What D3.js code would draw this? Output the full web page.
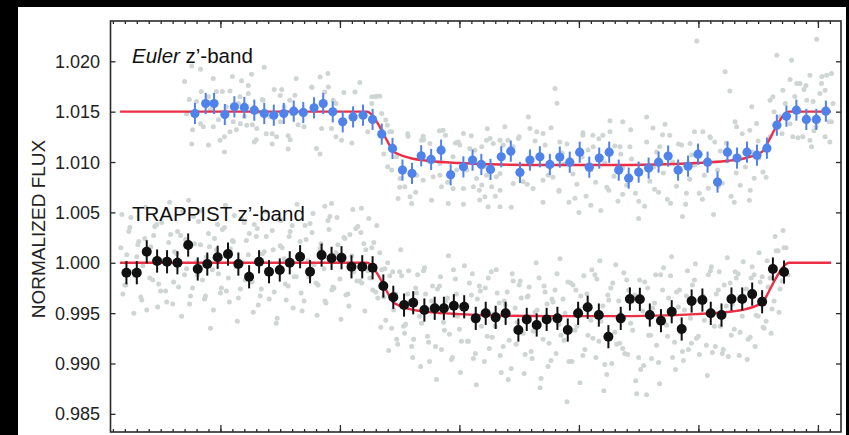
<!DOCTYPE html>
<html><head><meta charset="utf-8">
<script src="https://cdn.jsdelivr.net/npm/d3@7"></script>
<style>
html,body{margin:0;padding:0;background:#000;}
svg{display:block;}
</style></head><body>
<svg id="chart" width="849" height="435"></svg>
<script>
// Time is in minutes from mid-transit; flux is normalised.
const eulerTime = [-96.4,-93.7,-91.6,-88.9,-86.5,-84.0,-81.5,-79.0,-76.6,-74.1,-71.6,-69.2,-66.5,-64.2,-61.8,-59.3,-56.7,-54.2,-51.8,-49.5,-46.8,-44.3,-41.9,-39.6,-37.1,-34.6,-32.2,-29.0,-26.7,-24.5,-22.2,-19.5,-17.1,-14.8,-12.3,-9.8,-7.3,-4.8,-2.3,0.2,2.6,5.1,7.6,10.0,12.5,15.0,17.5,20.0,22.4,24.9,27.4,29.9,32.3,34.8,37.3,39.7,42.2,44.7,47.2,49.7,52.1,54.6,57.1,59.6,62.0];
const eulerFlux = [1.01482,1.01581,1.01581,1.01472,1.01548,1.01542,1.01515,1.01482,1.01465,1.01482,1.01505,1.01492,1.01538,1.01581,1.01498,1.01399,1.01448,1.01465,1.01423,1.01277,1.01135,1.00920,1.00887,1.01062,1.01026,1.01118,1.00873,1.00952,1.01019,1.00976,1.00927,1.01052,1.01108,1.00897,1.01019,1.01052,1.00976,1.01049,1.00999,1.01098,1.00949,1.01039,1.01098,1.00920,1.00840,1.00900,1.00940,1.00999,1.01059,1.00920,1.00959,1.01078,1.00999,1.00801,1.01098,1.01039,1.01098,1.01068,1.01138,1.01366,1.01455,1.01515,1.01423,1.01423,1.01505];
const eulerErr = 0.00105;

const trappistTime = [-113.6,-111.0,-108.5,-105.9,-103.4,-100.8,-98.1,-95.7,-93.3,-90.7,-88.1,-85.5,-82.8,-80.3,-77.8,-75.1,-72.6,-70.0,-67.5,-64.6,-62.1,-59.6,-57.1,-54.4,-51.8,-49.1,-46.6,-43.9,-41.6,-38.8,-36.2,-33.9,-31.4,-28.8,-25.9,-23.4,-20.9,-18.4,-15.2,-13.1,-10.6,-8.1,-5.4,-2.8,-0.2,2.2,5.0,7.4,10.5,12.8,15.3,17.8,20.6,23.3,25.8,28.3,31.0,33.1,35.8,38.3,41.0,43.5,46.0,48.7,51.5];
const trappistFlux = [0.99901,0.99901,1.00109,1.00017,1.00010,1.00000,1.00176,0.99938,0.99987,1.00054,1.00086,0.99987,0.99861,1.00010,0.99911,0.99928,1.00000,1.00060,0.99911,1.00076,1.00044,1.00050,0.99960,0.99960,0.99950,0.99769,0.99657,0.99580,0.99603,0.99531,0.99548,0.99548,0.99573,0.99563,0.99448,0.99498,0.99458,0.99498,0.99332,0.99438,0.99382,0.99438,0.99448,0.99332,0.99498,0.99558,0.99481,0.99266,0.99448,0.99640,0.99637,0.99481,0.99425,0.99514,0.99342,0.99620,0.99630,0.99498,0.99481,0.99640,0.99640,0.99689,0.99613,0.99938,0.99908];
const trappistErr = 0.00115;

// Unbinned Euler measurements
const eulerRawTime = [-65.0,-67.1,-62.9,-63.8,-61.7,-61.0,-64.6,-62.1,-59.6,-65.9,-56.2,-50.8,-50.0,-52.0,-52.0,-49.5,-48.5,-48.1,-49.5,-47.5,-45.8,-48.0,-47.0,-44.9,-43.7,-45.4,-42.4,-42.0,-63.8,-62.1,-54.6,-42.9,-39.1,-39.5,-37.4,-34.1,-33.5,-29.0,-30.3,-29.9,-27.4,-26.1,-24.4,-23.2,-22.3,-21.5,-19.8,-18.6,-17.8,-16.5,-15.2,-12.7,-12.3,-10.6,-9.0,-8.5,-38.2,-34.9,-31.6,-30.7,-28.2,-25.7,-23.2,-20.7,-19.8,-23.6,-34.5,-31.6,-29.0,-26.5,-24.4,-21.9,-19.8,-16.5,-14.0,-11.5,-9.0,-7.7,-34.9,-36.6,-40.7,-39.1,-24.9,-23.6,-22.8,-19.8,-32.8,
  -97.2,-91.8,-84.7,-82.2,-74.6,-87.6,-85.1,-79.3,-72.6,-71.3,-94.3,-91.8,-86.8,-83.4,-80.9,-75.9,-87.6,-97.2,-90.1,
  -98.5,-96.0,-95.0,-93.0,-92.5,-90.5,-89.5,-88.5,-86.0,-85.5,-84.0,-83.0,-82.0,-80.5,-79.5,-78.5,-77.5,-76.5,-75.0,-74.0,-73.0,-72.0,-70.5,-97.8,-94.8,
  -89.0,-81.5,-77.0,-72.5,
  29.6,49.7,53.4,59.7,36.7,37.9,-6.0,-5.5,17.0,18.6,21.6,22.8,7.8,11.0,1.0,3.5,6.0,7.8,-4.8,43.4,39.2,42.9,44.6,48.0,48.7,51.2,54.7,55.5,58.0,60.9,62.2,63.4,61.8,57.2,56.2,58.0,61.8,63.4,53.7,58.4,48.0,39.6,32.9,34.1,31.1,25.8,27.9,20.3,12.8,10.3,3.6,
  -6.5,-5.0,-3.8,-2.5,-1.5,-0.5,0.8,1.8,3.0,4.2,5.5,6.5,7.5,8.8,9.8,11.0,12.0,13.2,14.2,15.5,16.5,17.8,18.8,20.0,21.2,22.2,23.5,24.5,25.5,26.8,27.8,29.0,30.2,31.5,32.5,33.8,34.8,36.0,37.2,38.2,39.5,40.5,41.8,42.8,44.0,45.2,46.2,47.5,-4.2,2.3,10.5,19.5,28.3,35.5,43.5,0.0,15.0,26.0,
  50.5,51.8,53.0,54.2,55.2,56.5,57.5,58.8,59.5,60.5,61.5,62.8,63.8,
  -99,-97,-95,-93,-91,-89,-87,-85,-83,-81,-79,-77,-75,-73,-71,-69,-67,-65,-63,-61,-59,-57,-55,-53,
  -51,-49,-47,-45,-43,-41,-39,-37,-35,-33,-31,-29,-27,-25,-23,-21,-19,-17,-15,-13,-11,-9,-7,-5,-3,-1,1,3,5,7,9,11,13,15,17,19,21,23,25,27,29,31,33,35,37,39,41,43,45,47,49,51,53,55,57,59,61,63];
const eulerRawFlux = [1.01845,1.01746,1.01746,1.01696,1.01614,1.01581,1.01333,1.01333,1.01217,1.01135,1.01696,1.01654,1.01654,1.01647,1.01581,1.01482,1.01416,1.01366,1.01316,1.01300,1.01052,1.00952,1.00920,1.00837,1.00754,1.00639,1.00655,1.00589,1.00562,1.00589,1.00540,1.01257,1.01257,1.01217,1.01185,1.01316,1.01267,1.01283,1.01200,1.01168,1.01135,1.01118,1.01151,1.01217,1.01234,1.01185,1.01217,1.01349,1.01217,1.01151,1.01234,1.01448,1.01333,1.01300,1.01283,1.01168,1.01019,1.00986,1.01052,1.00920,1.00920,1.00837,1.00870,1.00853,1.00887,1.00952,1.00754,1.00738,1.00738,1.00754,1.00771,1.00754,1.00721,1.00788,1.00804,1.00738,1.00820,1.00870,1.00870,1.00853,1.00870,1.00820,1.00622,1.00655,1.00556,1.00556,1.00589,
  1.01954,1.01829,1.01806,1.01872,1.01720,1.01706,1.01647,1.01614,1.01614,1.01664,1.01349,1.01349,1.01399,1.01366,1.01333,1.01250,1.01300,1.01178,1.01217,
  1.0148,1.0160,1.0138,1.0165,1.0152,1.0142,1.0170,1.0155,1.0132,1.0158,1.0145,1.0168,1.0137,1.0150,1.0162,1.0128,1.0145,1.0172,1.0140,1.0155,1.0126,1.0148,1.0137,1.0162,1.0170,
  1.0125,1.0120,1.0118,1.0122,
  1.02202,1.02061,1.02011,1.02219,1.01895,1.01706,1.01730,1.01584,1.01448,1.01339,1.01376,1.01267,1.01409,1.01399,1.01267,1.01267,1.01267,1.01300,1.01200,1.01548,1.01399,1.01316,1.01383,1.01614,1.01647,1.01713,1.01780,1.01780,1.01862,1.01780,1.01862,1.01879,1.01713,1.01614,1.01250,1.01217,1.01250,1.01399,1.01250,1.01151,1.01250,1.01349,1.01250,1.01200,1.01300,1.01168,1.01185,1.01151,1.01151,1.01151,1.01151,
  1.0085,1.0072,1.0098,1.0060,1.0088,1.0078,1.0105,1.0066,1.0092,1.0080,1.0052,1.0099,1.0072,1.0086,1.0061,1.0094,1.0077,1.0103,1.0069,1.0088,1.0056,1.0081,1.0095,1.0070,1.0089,1.0063,1.0100,1.0076,1.0091,1.0058,1.0083,1.0097,1.0069,1.0087,1.0074,1.0048,1.0092,1.0079,1.0101,1.0066,1.0089,1.0077,1.0095,1.0062,1.0084,1.0104,1.0090,1.0112,1.0109,1.0112,1.0108,1.0110,1.0107,1.0111,1.0110,1.0050,1.0044,1.0046,
  1.0145,1.0158,1.0138,1.0165,1.0150,1.0172,1.0142,1.0160,1.0135,1.0168,1.0152,1.0140,1.0158,
  1.0180,1.0132,1.0192,1.0117,1.0170,1.0110,1.0185,1.0138,1.0176,1.0122,1.0194,1.0128,1.0166,1.0113,1.0183,1.0135,1.0174,1.0108,1.0188,1.0125,1.0169,1.0119,1.0179,1.0130,
  1.0165,1.0108,1.0130,1.0075,1.0128,1.0070,1.0122,1.0062,1.0131,1.0080,1.0119,1.0058,1.0126,1.0072,1.0133,1.0066,1.0117,1.0055,1.0125,1.0078,1.0121,1.0060,1.0134,1.0071,1.0118,1.0064,1.0129,1.0057,1.0123,1.0075,1.0116,1.0068,1.0132,1.0061,1.0120,1.0073,1.0127,1.0059,1.0118,1.0069,1.0130,1.0063,1.0124,1.0076,1.0119,1.0060,1.0128,1.0072,1.0121,1.0085,1.0150,1.0128,1.0182,1.0124,1.0176,1.0131,1.0185,1.0120];

// Unbinned TRAPPIST measurements, three interleaved sequences
const trappistRawTimeA = [-115,-114,-113,-112,-111,-110,-109,-108,-107,-106,-105,-104,-103,-102,-101,-100,-99,-98,-97,-96,-95,-94,-93,-92,-91,-90,-89,-88,-87,-86,-85,-84,-83,-82,-81,-80,-79,-78,-77,-76,-75,-74,-73,-72,-71,-70,-69,-68,-67,-66,-65,-64,-63,-62,-61,-60,-59,-58,-57,-56,-55,-54,-53,-52,-51,-50,-49,-48,-47,-46,-45,-44,-43,-42,-41,-40,-39,-38,-37,-36,-35,-34,-33,-32,-31,-30,-29,-28,-27,-26,-25,-24,-23,-22,-21,-20,-19,-18,-17,-16,-15,-14,-13,-12,-11,-10,-9,-8,-7,-6,-5,-4,-3,-2,-1,0,1,2,3,4,5,6,7,8,9,10,11,12,13,14,15,16,17,18,19,20,21,22,23,24,25,26,27,28,29,30,31,32,33,34,35,36,37,38,39,40,41,42,43,44,45,46,47,48,49,50,51,52];
const trappistRawFluxA = [1.0015,0.9978,1.0031,0.9991,1.0006,0.9966,1.0024,1.0012,0.9983,1.0038,0.9972,1.0003,1.0020,0.9959,1.0009,1.0027,0.9988,1.0062,0.9975,1.0001,1.0018,0.9964,1.0029,0.9993,1.0013,0.9970,1.0035,0.9985,1.0022,0.9996,0.9974,1.0040,1.0008,0.9981,1.0026,0.9967,1.0011,0.9990,1.0032,0.9940,1.0017,1.0004,0.9977,1.0037,0.9986,1.0021,0.9962,1.0002,1.0030,0.9980,1.0014,0.9994,1.0042,0.9973,1.0010,0.9984,1.0025,0.9969,1.0007,1.0034,0.9982,1.0019,0.9992,
  1.0015,0.9971,1.0010,0.9966,1.0000,0.9935,0.9969,0.9991,0.9937,0.9969,
  0.9917,0.9975,0.9947,0.9992,0.9927,0.9962,0.9917,0.9977,0.9941,0.9965,
  0.9904,0.9984,0.9934,0.9955,0.9922,0.9968,0.9910,0.9977,0.9950,0.9927,
  0.9991,0.9937,0.9960,0.9917,0.9971,0.9895,0.9955,0.9978,0.9930,0.9966,
  0.9912,0.9951,0.9985,0.9924,0.9959,0.9903,0.9973,0.9939,0.9964,0.9862,
  0.9980,0.9933,0.9954,0.9908,0.9969,0.9943,0.9988,0.9922,0.9957,0.9889,
  0.9975,0.9931,0.9962,0.9915,0.9983,0.9940,0.9968,0.9906,0.9952,0.9869,
  0.9928,0.9960,0.9901,0.9973,0.9938,0.9987,0.9921,0.9956,0.9912,0.9967,
  0.9945,0.9983,0.9927,0.9963,0.9918,0.9992,0.9937,0.9973,0.9910,0.9957,
  0.9980,0.9934,0.9989,0.9947,0.9974,0.9926,0.9988,0.9947,0.9986,0.9942,
  0.9985,0.9962,1.0012,0.9982,1.0015];
const trappistRawTimeB = [-114.5,-113.5,-112.5,-111.5,-110.5,-109.5,-108.5,-107.5,-106.5,-105.5,-104.5,-103.5,-102.5,-101.5,-100.5,-99.5,-98.5,-97.5,-96.5,-95.5,-94.5,-93.5,-92.5,-91.5,-90.5,-89.5,-88.5,-87.5,-86.5,-85.5,-84.5,-83.5,-82.5,-81.5,-80.5,-79.5,-78.5,-77.5,-76.5,-75.5,-74.5,-73.5,-72.5,-71.5,-70.5,-69.5,-68.5,-67.5,-66.5,-65.5,-64.5,-63.5,-62.5,-61.5,-60.5,-59.5,-58.5,-57.5,-56.5,-55.5,-54.5,-53.5,-52.5,-51.5,-50.5,-49.5,-48.5,-47.5,-46.5,-45.5,-44.5,-43.5,-42.5,-41.5,-40.5,-39.5,-38.5,-37.5,-36.5,-35.5,-34.5,-33.5,-32.5,-31.5,-30.5,-29.5,-28.5,-27.5,-26.5,-25.5,-24.5,-23.5,-22.5,-21.5,-20.5,-19.5,-18.5,-17.5,-16.5,-15.5,-14.5,-13.5,-12.5,-11.5,-10.5,-9.5,-8.5,-7.5,-6.5,-5.5,-4.5,-3.5,-2.5,-1.5,-0.5,0.5,1.5,2.5,3.5,4.5,5.5,6.5,7.5,8.5,9.5,10.5,11.5,12.5,13.5,14.5,15.5,16.5,17.5,18.5,19.5,20.5,21.5,22.5,23.5,24.5,25.5,26.5,27.5,28.5,29.5,30.5,31.5,32.5,33.5,34.5,35.5,36.5,37.5,38.5,39.5,40.5,41.5,42.5,43.5,44.5,45.5,46.5,47.5,48.5,49.5,50.5,51.5,52.5];
const trappistRawFluxB = [0.9969,1.0008,1.0045,0.9987,1.0021,0.9997,0.9953,1.0016,1.0036,0.9979,1.0002,0.9961,1.0028,1.0011,0.9976,1.0051,0.9994,0.9967,1.0019,1.0041,0.9983,1.0006,0.9935,1.0024,0.9989,1.0033,0.9972,1.0014,1.0047,0.9965,1.0000,1.0022,0.9981,1.0038,0.9958,1.0009,1.0026,0.9992,0.9971,1.0043,1.0015,0.9963,1.0031,0.9986,1.0005,0.9952,1.0023,1.0039,0.9998,0.9978,1.0012,0.9960,1.0046,0.9975,1.0018,1.0003,0.9968,1.0028,0.9991,1.0036,0.9980,1.0013,
  0.9985,1.0020,0.9965,0.9993,0.9943,0.9987,0.9953,0.9919,0.9987,0.9939,
  0.9961,0.9924,0.9988,0.9940,0.9969,0.9902,0.9954,0.9974,0.9914,0.9962,
  0.9929,0.9993,0.9947,0.9922,0.9957,0.9980,0.9905,0.9964,0.9937,0.9975,
  0.9915,0.9949,0.9970,0.9891,0.9958,0.9923,0.9982,0.9941,0.9965,0.9909,
  0.9976,0.9932,0.9953,0.9885,0.9971,0.9920,0.9961,0.9989,0.9928,0.9950,
  0.9902,0.9978,0.9937,0.9967,0.9914,0.9956,0.9925,0.9984,0.9942,0.9899,
  0.9963,0.9980,0.9919,0.9949,0.9910,0.9973,0.9933,0.9870,0.9894,0.9981,
  0.9928,0.9955,0.9918,0.9988,0.9940,0.9965,0.9906,0.9971,0.9931,0.9953,
  0.9914,0.9978,0.9925,0.9961,0.9943,0.9988,0.9911,0.9969,0.9937,0.9978,
  0.9907,0.9959,0.9985,0.9931,0.9967,0.9924,0.9996,0.9948,0.9981,0.9935,
  0.9976,0.9954,1.0012,0.9974,1.0015,0.9988];
const trappistRawTimeC = [-114.75,-113.75,-112.75,-111.75,-110.75,-109.75,-108.75,-107.75,-106.75,-105.75,-104.75,-103.75,-102.75,-101.75,-100.75,-99.75,-98.75,-97.75,-96.75,-95.75,-94.75,-93.75,-92.75,-91.75,-90.75,-89.75,-88.75,-87.75,-86.75,-85.75,-84.75,-83.75,-82.75,-81.75,-80.75,-79.75,-78.75,-77.75,-76.75,-75.75,-74.75,-73.75,-72.75,-71.75,-70.75,-69.75,-68.75,-67.75,-66.75,-65.75,-64.75,-63.75,-62.75,-61.75,-60.75,-59.75,-58.75,-57.75,-56.75,-55.75,-54.75,-53.75,-52.75,-51.75,-50.75,-49.75,-48.75,-47.75,-46.75,-45.75,-44.75,-43.75,-42.75,-41.75,-40.75,-39.75,-38.75,-37.75,-36.75,-35.75,-34.75,-33.75,-32.75,-31.75,-30.75,-29.75,-28.75,-27.75,-26.75,-25.75,-24.75,-23.75,-22.75,-21.75,-20.75,-19.75,-18.75,-17.75,-16.75,-15.75,-14.75,-13.75,-12.75,-11.75,-10.75,-9.75,-8.75,-7.75,-6.75,-5.75,-4.75,-3.75,-2.75,-1.75,-0.75,0.25,1.25,2.25,3.25,4.25,5.25,6.25,7.25,8.25,9.25,10.25,11.25,12.25,13.25,14.25,15.25,16.25,17.25,18.25,19.25,20.25,21.25,22.25,23.25,24.25,25.25,26.25,27.25,28.25,29.25,30.25,31.25,32.25,33.25,34.25,35.25,36.25,37.25,38.25,39.25,40.25,41.25,42.25,43.25,44.25,45.25,46.25,47.25,48.25,49.25,50.25,51.25];
const trappistRawFluxC = [1.0048,0.9978,1.0035,0.9950,1.0018,0.9963,1.0055,0.9985,1.0027,0.9956,
  1.0040,0.9972,1.0060,0.9981,1.0031,0.9947,1.0023,0.9959,1.0046,0.9988,
  1.0052,0.9967,1.0016,0.9953,1.0038,0.9975,1.0057,0.9961,1.0021,0.9942,
  1.0044,0.9983,1.0029,0.9951,1.0034,0.9974,1.0051,0.9964,1.0013,0.9945,
  1.0042,0.9979,1.0026,0.9955,1.0058,0.9970,1.0037,0.9986,1.0049,0.9948,
  1.0019,0.9962,1.0033,0.9976,1.0045,0.9944,1.0024,0.9957,1.0053,0.9982,
  1.0030,0.9952,
  1.0044,0.9973,1.0037,0.9936,0.9994,0.9913,0.9991,0.9924,1.0013,0.9930,
  0.9992,0.9906,0.9970,0.9897,0.9995,0.9921,0.9977,0.9884,0.9986,0.9933,
  1.0007,0.9906,0.9969,0.9891,0.9997,0.9922,0.9989,0.9879,0.9972,0.9902,
  0.9985,0.9926,0.9993,0.9908,0.9962,0.9884,0.9989,0.9919,0.9982,0.9890,
  0.9967,0.9905,1.0000,0.9876,0.9977,0.9897,0.9964,0.9910,1.0004,0.9923,
  0.9981,0.9902,0.9973,0.9881,0.9987,0.9928,0.9993,0.9906,1.0002,0.9873,
  0.9968,0.9900,0.9998,0.9920,0.9990,0.9909,0.9961,0.9883,0.9983,0.9898,
  0.9975,0.9905,0.9988,0.9880,0.9995,0.9927,1.0006,0.9894,0.9973,0.9903,
  0.9992,0.9920,0.9999,0.9909,0.9967,0.9888,0.9996,0.9917,0.9991,0.9914,
  1.0005,0.9928,0.9991,0.9908,1.0001,0.9904,0.9985,0.9917,1.0010,0.9936,
  1.0002,0.9930,1.0026,0.9951,1.0032];

// Transit model (TRAPPIST level); the Euler curve is shifted up by eulerOffset
const modelTime = [-115.2,-53.2,-52.0,-50.0,-48.0,-46.7,-45.4,-42.4,-37.4,-29.9,-19.8,-7.3,-0.25,6.8,19.3,29.4,36.9,41.9,44.9,46.2,47.5,49.5,51.5,52.7,63.3];
const modelFlux = [1,1,0.9997,0.9985,0.9970,0.9961,0.9958,0.9954,0.9951,0.9949,0.99475,0.9947,0.9947,0.9947,0.99475,0.9949,0.9951,0.9954,0.9958,0.9961,0.9970,0.9985,0.9997,1,1];
const eulerOffset = 0.015;

const yTicks = [0.985,0.990,0.995,1.000,1.005,1.010,1.015,1.020];
const yTickLabels = ["0.985","0.990","0.995","1.000","1.005","1.010","1.015","1.020"];
const xMajorTicks = [-90,-60,-30,0,30,60];
const xMinorTicks = d3.range(-117,66,3);

const svg = d3.select("#chart");
const W = 849, H = 435;
const font = "'Liberation Sans', Arial, Helvetica, sans-serif";

// white page on a black surround
svg.append("rect").attr("x",18).attr("y",7).attr("width",828).attr("height",H-7).attr("fill","#fff");

const x = d3.scaleLinear().domain([-117.6,65.8]).range([110.5,841]);
const y = d3.scaleLinear().domain([0.9832,1.0240]).range([432,21]);

const axisCol = "#2a2a2a";
const zip = (t,f)=>d3.range(Math.min(t.length,f.length)).map(i=>({t:t[i],f:f[i]}));

// unbinned points
function drawRaw(t, f){
  svg.append("g").selectAll("circle").data(zip(t,f)).join("circle")
    .attr("cx",d=>x(d.t)).attr("cy",d=>y(d.f)).attr("r",2.5).attr("fill","#cfd5d4");
}
drawRaw(eulerRawTime, eulerRawFlux);
drawRaw(trappistRawTimeA, trappistRawFluxA);
drawRaw(trappistRawTimeB, trappistRawFluxB);
drawRaw(trappistRawTimeC, trappistRawFluxC);

// binned points with error bars
function drawSeries(t, f, err, colour, r){
  const g = svg.append("g");
  const data = zip(t,f);
  g.selectAll("line").data(data).join("line")
    .attr("x1",d=>x(d.t)).attr("x2",d=>x(d.t))
    .attr("y1",d=>y(d.f-err)).attr("y2",d=>y(d.f+err))
    .attr("stroke",colour).attr("stroke-width",2);
  g.selectAll("circle").data(data).join("circle")
    .attr("cx",d=>x(d.t)).attr("cy",d=>y(d.f)).attr("r",r)
    .attr("fill",colour);
}

// model curves
const modelLine = (off)=>d3.line()
  .x((d,i)=>x(modelTime[i])).y((d,i)=>y(modelFlux[i]+off))
  .curve(d3.curveMonotoneX);

svg.append("path").datum(modelFlux).attr("d",modelLine(eulerOffset))
  .attr("fill","none").attr("stroke","#ec2f45").attr("stroke-width",2.4);
drawSeries(eulerTime, eulerFlux, eulerErr, "#4f82ea", 4.6);

svg.append("path").datum(modelFlux).attr("d",modelLine(0))
  .attr("fill","none").attr("stroke","#ec2f45").attr("stroke-width",2.4);
drawSeries(trappistTime, trappistFlux, trappistErr, "#111", 5);

// frame and ticks
const gx1 = svg.append("g").attr("transform",`translate(0,${y.range()[0]})`);
gx1.call(d3.axisBottom(x).tickValues(xMinorTicks).tickSize(-3).tickFormat(""));
const gx2 = svg.append("g").attr("transform",`translate(0,${y.range()[0]})`);
gx2.call(d3.axisBottom(x).tickValues(xMajorTicks).tickSize(-7).tickFormat(""));
const gx3 = svg.append("g").attr("transform",`translate(0,${y.range()[1]})`);
gx3.call(d3.axisTop(x).tickValues(xMinorTicks).tickSize(-3).tickFormat(""));
const gx4 = svg.append("g").attr("transform",`translate(0,${y.range()[1]})`);
gx4.call(d3.axisTop(x).tickValues(xMajorTicks).tickSize(-7).tickFormat(""));
const gyL = svg.append("g").attr("transform",`translate(${x.range()[0]},0)`);
gyL.call(d3.axisLeft(y).tickValues(yTicks).tickSize(-5).tickFormat(""));
const gyR = svg.append("g").attr("transform",`translate(${x.range()[1]},0)`);
gyR.call(d3.axisRight(y).tickValues(yTicks).tickSize(-5).tickFormat(""));
[gx1,gx2,gx3,gx4,gyL,gyR].forEach(g=>{
  g.selectAll(".domain").remove();
  g.selectAll("line").attr("stroke",axisCol).attr("stroke-width",1.3);
});
svg.append("rect")
  .attr("x",x.range()[0]).attr("y",y.range()[1])
  .attr("width",x.range()[1]-x.range()[0]).attr("height",y.range()[0]-y.range()[1])
  .attr("fill","none").attr("stroke",axisCol).attr("stroke-width",1.6);

// y tick labels
svg.append("g").selectAll("text").data(yTicks).join("text")
  .attr("x",100).attr("y",d=>y(d)).attr("dy","0.36em")
  .attr("text-anchor","end").attr("font-family",font).attr("font-size",18)
  .attr("fill","#222").text((d,i)=>yTickLabels[i]);

// axis title
svg.append("text").attr("transform","translate(45,229) rotate(-90)")
  .attr("text-anchor","middle").attr("font-family",font).attr("font-size",19)
  .attr("fill","#222").text("NORMALIZED FLUX");

// series labels
const lab1 = svg.append("text").attr("x",132).attr("y",63)
  .attr("font-family",font).attr("font-size",20.5).attr("fill","#111");
lab1.append("tspan").attr("font-style","italic").text("Euler");
lab1.append("tspan").text(" z\u2019-band");
svg.append("text").attr("x",132).attr("y",221)
  .attr("font-family",font).attr("font-size",20.5).attr("fill","#111")
  .text("TRAPPIST z\u2019-band");
</script>
</body></html>
